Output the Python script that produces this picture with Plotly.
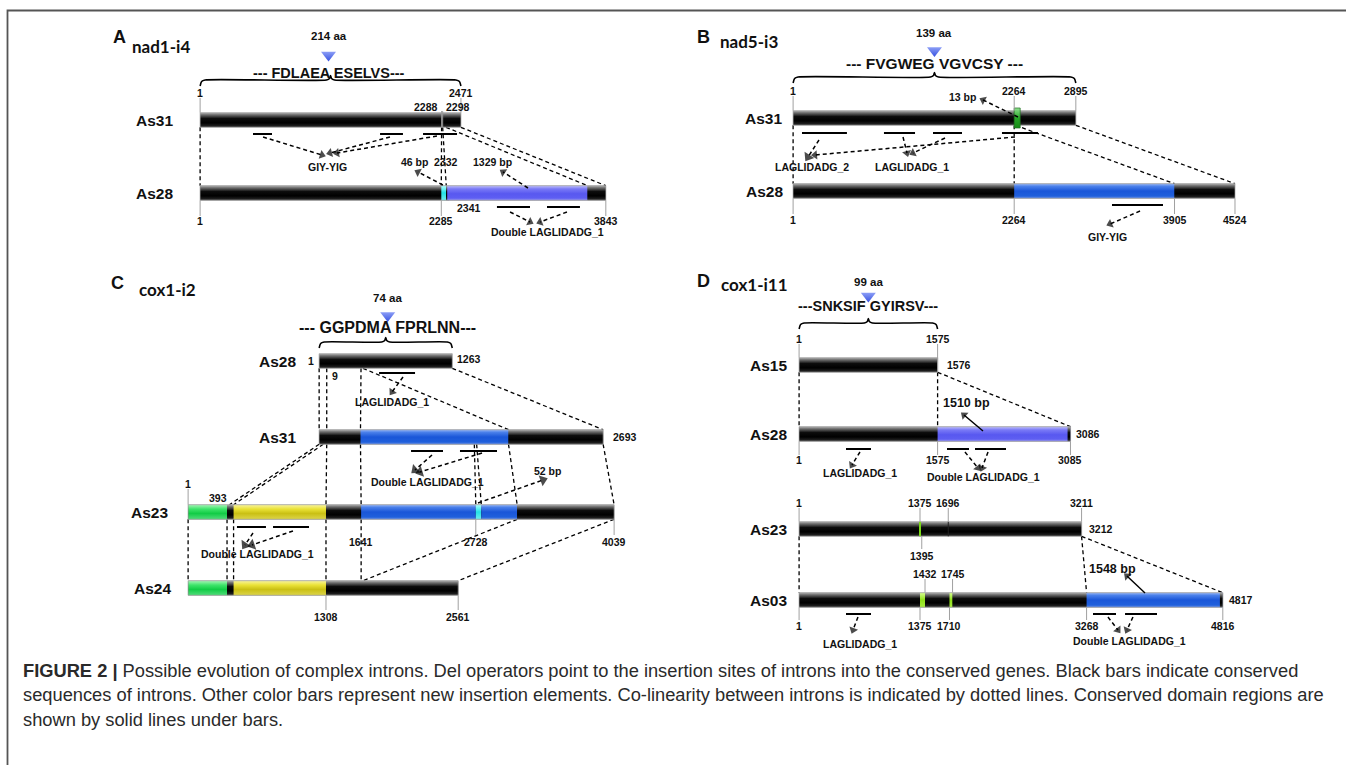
import plotly.graph_objects as go

W, H = 1346, 765

# ======================= DATA (bp positions) =======================
# ---- Panel A : nad1-i4 ----
A_AA = "214 aa"
A_SEQ = "--- FDLAEA ESELVS---"
A_AS31_LEN = 2471
A_AS31_SEGS = [(1, 2471, "black")]
A_AS31_MARKS = [2288, 2298]
A_AS31_DOMAINS = [(502, 682), (1705, 1922), (2112, 2434)]
A_AS28_LEN = 3843
A_AS28_SEGS = [(1, 2285, "black"), (2285, 2331, "cyan"), (2331, 2341, "black"),
               (2341, 3670, "violet"), (3670, 3843, "black")]
A_AS28_DOMAINS = [(2812, 3125), (3286, 3598)]
A_LINKS = [(1, 1), (2288, 2285), (2298, 2332), (2330, 3670), (2471, 3843)]

# ---- Panel B : nad5-i3 ----
B_AA = "139 aa"
B_SEQ = "--- FVGWEG VGVCSY ---"
B_AS31_LEN = 2895
B_AS31_SEGS = [(1, 2895, "black")]
B_AS31_INSERT = (2264, 2277)          # 13 bp
B_AS31_DOMAINS = [(92, 552), (931, 1249), (1433, 1730), (2139, 2508)]
B_AS28_LEN = 4524
B_AS28_SEGS = [(1, 2264, "black"), (2264, 3905, "blue"), (3905, 4524, "black")]
B_AS28_DOMAINS = [(3265, 3787)]
B_LINKS = [(1, 1), (2264, 2264), (2277, 3905), (2895, 4524)]

# ---- Panel C : cox1-i2 ----
C_AA = "74 aa"
C_SEQ = "--- GGPDMA FPRLNN---"
C_AS28_LEN = 1263
C_AS28_SEGS = [(1, 1263, "black")]
C_AS28_DOMAINS = [(569, 910)]
C_AS31_LEN = 2693
C_AS31_SEGS = [(1, 393, "black"), (393, 1796, "blue"), (1796, 2693, "black")]
C_AS31_DOMAINS = [(872, 1175), (1336, 1687)]
C_AS23_LEN = 4039
C_AS23_SEGS = [(1, 370, "green"), (370, 432, "black"), (432, 1308, "yellow"), (1308, 1641, "black"),
               (1641, 2728, "blue"), (2728, 2780, "cyan"), (2780, 3120, "blue"), (3120, 4039, "black")]
C_AS23_DOMAINS = [(464, 739), (806, 1147)]
C_AS24_LEN = 2561
C_AS24_SEGS = [(1, 370, "green"), (370, 432, "black"), (432, 1308, "yellow"), (1308, 2561, "black")]
C_LINKS_28_31 = [(1, 1), (73, 73), (398, 393), (417, 1796), (1263, 2693)]
C_LINKS_31_23 = [(1, 393), (40, 432), (73, 1308), (393, 1641), (1472, 2728), (1494, 2780),
                 (1796, 3120), (2693, 4039)]
C_LINKS_23_24 = [(1, 1), (370, 370), (432, 432), (1308, 1308), (1641, 1641), (3120, 1659), (4039, 2561)]

# ---- Panel D : cox1-i11 ----
D_AA = "99 aa"
D_SEQ = "---SNKSIF GYIRSV---"
D_AS15_LEN = 1576
D_AS15_SEGS = [(1, 1576, "black")]
D_AS28_LEN = 3086
D_AS28_SEGS = [(1, 1575, "black"), (1575, 3085, "violet"), (3085, 3086, "black")]
D_AS28_DOMAINS = [(534, 818), (1682, 1932), (2000, 2352)]
D_AS23_LEN = 3212
D_AS23_SEGS = [(1, 3212, "black")]
D_AS23_MARKS = [(1375, "lime"), (1696, "black")]
D_AS03_LEN = 4817
D_AS03_SEGS = [(1, 1375, "black"), (1375, 1432, "lime"), (1432, 1710, "black"), (1710, 1745, "lime"),
               (1745, 3268, "black"), (3268, 4816, "blue"), (4816, 4817, "black")]
D_AS03_DOMAINS = [(534, 818), (3341, 3602), (3705, 4068)]
D_LINKS_15_28 = [(1, 1), (1575, 1575), (1576, 3085)]
D_LINKS_23_03 = [(1, 1), (3211, 3268), (3212, 4816)]

CAPTION = [
    "<b>FIGURE 2 |</b> Possible evolution of complex introns. Del operators point to the insertion sites of introns into the conserved genes. Black bars indicate conserved",
    "sequences of introns. Other color bars represent new insertion elements. Co-linearity between introns is indicated by dotted lines. Conserved domain regions are",
    "shown by solid lines under bars.",
]

# ======================= LAYOUT / STYLE =======================
PANELS = {  # pixel of bp 0, pixels per bp
    "A": dict(ax="x", x0=200, k=0.1056),
    "B": dict(ax="x2", x0=793, k=0.0977),
    "C": dict(ax="x3", x0=188, k=0.1055),
    "D": dict(ax="x4", x0=799, k=0.088),
}
ROWS = {  # panel, bp offset, bar centre y (px)
    "A31": ("A", 0, 120), "A28": ("A", 0, 193),
    "B31": ("B", 0, 118), "B28": ("B", 0, 191),
    "C28": ("C", 1242, 361), "C31": ("C", 1242, 437), "C23": ("C", 0, 512), "C24": ("C", 0, 588),
    "D15": ("D", 0, 365), "D28": ("D", 0, 434), "D23": ("D", 0, 529), "D03": ("D", 0, 600),
}
HH = 7.3  # half bar height

GRAD = {
    "black": [[0, "#b4b4b4"], [0.14, "#707070"], [0.4, "#0c0c0c"], [0.7, "#000000"], [0.9, "#1e1e1e"], [1, "#5a5a5a"]],
    "blue": [[0, "#9ab8f6"], [0.18, "#4a80ea"], [0.5, "#1a56d8"], [0.85, "#2060dc"], [1, "#6a90e8"]],
    "violet": [[0, "#c0c0fb"], [0.22, "#7a7af6"], [0.55, "#5858f0"], [0.85, "#5e5ef2"], [1, "#9494f6"]],
    "cyan": [[0, "#b0ffff"], [0.5, "#22e2e6"], [1, "#70ecee"]],
    "green": [[0, "#a8f5b8"], [0.3, "#3ee46a"], [0.6, "#12cc46"], [1, "#50dc7a"]],
    "yellow": [[0, "#f8f4a0"], [0.3, "#eae236"], [0.6, "#cac014"], [1, "#dcd44a"]],
    "lime": [[0, "#d8ff90"], [0.5, "#8ee018"], [1, "#a8ec40"]],
    "dgreen": [[0, "#90e090"], [0.5, "#26a626"], [1, "#158a15"]],
}

FONT = "Liberation Sans, Arial, sans-serif"
traces = []
anns = []


def P(row):
    return PANELS[ROWS[row][0]]


def X(row, bp):
    return ROWS[row][1] + bp


def Y(row):
    return ROWS[row][2]


def dpx(row, px):
    return px / P(row)["k"]


def add(x, y, **kw):
    kw.setdefault("mode", "lines")
    kw.setdefault("hoverinfo", "skip")
    traces.append(go.Scatter(x=x, y=y, showlegend=False, yaxis="y", **kw))


def rect(row, a, b, cname, hh=HH, outline="#9a9a9a"):
    ax = P(row)["ax"]
    yc = Y(row)
    xa, xb = X(row, a), X(row, b)
    add([xa, xb, xb, xa, xa], [yc - hh, yc - hh, yc + hh, yc + hh, yc - hh], xaxis=ax,
        fill="toself", line=dict(width=0),
        fillgradient=dict(type="vertical", colorscale=GRAD[cname], start=yc - hh, stop=yc + hh))
    if outline:
        add([xa, xb, xb, xa, xa], [yc - hh, yc - hh, yc + hh, yc + hh, yc - hh], xaxis=ax,
            line=dict(width=0.7, color=outline))


def bar(row, length, segs, minpx=3.0):
    rect(row, 1, length, "black", outline=None)
    for a, b, c in segs:
        if c == "black" and (a, b) == (1, length):
            continue
        w = dpx(row, minpx)
        if b - a < w:
            if b >= length:
                a = b - w
            else:
                b = a + w
        rect(row, a, b, c, outline=None)
    ax = P(row)["ax"]
    yc = Y(row)
    xa, xb = X(row, 1), X(row, length)
    add([xa, xb, xb, xa, xa], [yc - HH, yc - HH, yc + HH, yc + HH, yc - HH], xaxis=ax,
        line=dict(width=0.7, color="#9a9a9a"))


def vmark(row, bp, color, width):
    add([X(row, bp)] * 2, [Y(row) - HH, Y(row) + HH], xaxis=P(row)["ax"], line=dict(color=color, width=width))


def tick(row, bp, y1, y2):
    add([X(row, bp)] * 2, [y1, y2], xaxis=P(row)["ax"], line=dict(color="#a0a0a0", width=1))


def dom(row, a, b, y):
    add([X(row, a), X(row, b)], [y, y], xaxis=P(row)["ax"], line=dict(color="black", width=2))


def link(ra, ba, rb, bb):
    add([X(ra, ba), X(rb, bb)], [Y(ra) + HH, Y(rb) - HH], xaxis=P(ra)["ax"],
        line=dict(color="black", width=1.3, dash="4px,3px"))


def arrow(row, b0, y0, b1, y1, dashed=True, size=8):
    add([X(row, b0), X(row, b1)], [y0, y1], xaxis=P(row)["ax"], mode="lines+markers",
        line=dict(color="black", width=1.5 if dashed else 1.4, dash="4px,3px" if dashed else "solid"),
        marker=dict(symbol="triangle-up", size=[0, size], color="black", angleref="previous",
                    line=dict(width=0)))


def text(row, bp, y, t, size=10.5, xanchor="center", xshift=0, bold=True, family=FONT, color="#111"):
    anns.append(dict(x=X(row, bp), y=y, xref=P(row)["ax"], yref="y", text=f"<b>{t}</b>" if bold else t,
                     showarrow=False, xanchor=xanchor, yanchor="middle", xshift=xshift,
                     font=dict(size=size, family=family, color=color)))


def label_row(row, name, gap):
    text(row, 1, Y(row), name, size=15.5, xanchor="right", xshift=-gap)


def brace(row, a, b, y):
    k = P(row)["k"]
    m = (a + b) / 2
    d = lambda px: px / k
    xs = [a, a + d(1.5), a + d(5), m - d(4), m - d(1), m, m + d(1), m + d(4), b - d(5), b - d(1.5), b]
    ys = [y + 6, y + 1.5, y, y, y - 1.5, y - 4.5, y - 1.5, y, y, y + 1.5, y + 6]
    add([X(row, v) for v in xs], ys, xaxis=P(row)["ax"], line=dict(color="black", width=1.6, shape="spline",
                                                                   smoothing=0.6))


def header(row, length, aa, seq, y_aa, y_tri, y_seq, y_brace, seq_size, tri_dx=0):
    m = (1 + length) / 2
    brace(row, 1, length, y_brace)
    add([X(row, m + dpx(row, tri_dx))], [y_tri], xaxis=P(row)["ax"], mode="markers",
        marker=dict(symbol="triangle-down", size=13, color="#8c9ef6",
                    gradient=dict(type="vertical", color="#3550e0"), line=dict(width=0)))
    text(row, m + dpx(row, tri_dx), y_aa, aa, size=11.5)
    text(row, m + dpx(row, tri_dx), y_seq, seq, size=seq_size)


def title(x, y, letter):
    anns.append(dict(x=x / W, y=1 - y / H, xref="paper", yref="paper", text=f"<b>{letter}</b>", showarrow=False,
                     xanchor="center", yanchor="middle", font=dict(size=18, family=FONT, color="#111")))


def subtitle(x, y, name):
    anns.append(dict(x=x / W, y=1 - y / H, xref="paper", yref="paper", text=f"<b>{name}</b>", showarrow=False,
                     xanchor="center", yanchor="middle", font=dict(size=17, family="Lato, sans-serif", color="#111")))


# ======================= PANEL A =======================
header("A31", A_AS31_LEN, A_AA, A_SEQ, 36, 55, 72.5, 80, 14.5, tri_dx=-2)
for a, b in A_LINKS:
    link("A31", a, "A28", b)
for r, L, S in [("A31", A_AS31_LEN, A_AS31_SEGS), ("A28", A_AS28_LEN, A_AS28_SEGS)]:
    bar(r, L, S)
for m in A_AS31_MARKS:
    vmark("A31", m, "#9a9a9a", 1)
    tick("A31", m, 111, 113)
label_row("A31", "As31", 25)
label_row("A28", "As28", 25)
for v in [1, A_AS31_LEN]:
    tick("A31", v, 98, Y("A31") - HH)
    text("A31", v, 93, str(v))
text("A31", 2288, 107, "2288", xanchor="right", xshift=-2)
text("A31", 2298, 107, "2298", xanchor="left", xshift=1.5)
for v in [1, 2285, A_AS28_LEN]:
    tick("A28", v, Y("A28") + HH, 216)
    text("A28", v, 221, str(v))
text("A28", 2341, 208, "2341", xanchor="left", xshift=8)
text("A28", 2332, 162, "2332")
for a, b in A_AS31_DOMAINS:
    dom("A31", a, b, 134)
for a, b in A_AS28_DOMAINS:
    dom("A28", a, b, 207)
arrow("A31", 597, 137, 1155, 155)
arrow("A31", 1799, 137, 1231, 153)
arrow("A31", 2244, 136, 1297, 153)
text("A31", 1203, 167, "GIY-YIG")
arrow("A28", 2300, 185, 2064, 172)
text("A28", 2030, 162, "46 bp")
arrow("A28", 3106, 188, 2870, 172)
text("A28", 2770, 162, "1329 bp")
arrow("A28", 2936, 212, 3125, 222)
arrow("A28", 3475, 212, 3220, 222)
text("A28", 3295, 232, "Double LAGLIDADG_1")

# ======================= PANEL B =======================
header("B31", B_AS31_LEN, B_AA, B_SEQ, 33, 50.5, 63, 77, 15.5)
for a, b in B_LINKS:
    link("B31", a, "B28", b)
bar("B31", B_AS31_LEN, B_AS31_SEGS)
ia, ib = B_AS31_INSERT
rect("B31", ia, max(ib, ia + dpx("B31", 6)), "dgreen", hh=10, outline="#1f6f1f")
bar("B28", B_AS28_LEN, B_AS28_SEGS)
label_row("B31", "As31", 9)
label_row("B28", "As28", 8)
for v in [1, 2264, B_AS31_LEN]:
    tick("B31", v, 96, Y("B31") - HH)
    text("B31", v, 91, str(v))
for v in [1, 2264, 3905, B_AS28_LEN]:
    tick("B28", v, Y("B28") + HH, 214)
    text("B28", v, 220, str(v))
for a, b in B_AS31_DOMAINS:
    dom("B31", a, b, 133)
for a, b in B_AS28_DOMAINS:
    dom("B28", a, b, 205)
arrow("B31", 2303, 117, 1945, 100)
text("B31", 1730, 97, "13 bp")
arrow("B31", 266, 140, 154, 157, size=10)
arrow("B31", 1126, 137, 1167, 153)
arrow("B31", 1556, 138, 1228, 153)
arrow("B31", 2272, 137, 225, 155)
text("B31", 194, 167, "LAGLIDADG_2")
text("B31", 1218, 167, "LAGLIDADG_1")
arrow("B28", 3552, 211, 3245, 224)
text("B28", 3224, 237, "GIY-YIG")

# ======================= PANEL C =======================
header("C28", C_AS28_LEN, C_AA, C_SEQ, 298, 315.5, 327, 342, 16, tri_dx=2)
for a, b in C_LINKS_28_31:
    add([X("C28", a), X("C31", b)], [Y("C28") + HH, Y("C31") - HH], xaxis="x3",
        line=dict(color="black", width=1.3, dash="4px,3px"))
for a, b in C_LINKS_31_23:
    add([X("C31", a), X("C23", b)], [Y("C31") + HH, Y("C23") - HH], xaxis="x3",
        line=dict(color="black", width=1.3, dash="4px,3px"))
for a, b in C_LINKS_23_24:
    link("C23", a, "C24", b)
for r, L, S in [("C28", C_AS28_LEN, C_AS28_SEGS), ("C31", C_AS31_LEN, C_AS31_SEGS),
                ("C23", C_AS23_LEN, C_AS23_SEGS), ("C24", C_AS24_LEN, C_AS24_SEGS)]:
    bar(r, L, S)
label_row("C28", "As28", 21)
label_row("C31", "As31", 21)
label_row("C23", "As23", 18)
label_row("C24", "As24", 15)
text("C28", 1, 361, "1", xanchor="right", xshift=-3)
text("C28", C_AS28_LEN, 359, str(C_AS28_LEN), xanchor="left", xshift=3)
text("C28", 9, 376, "9", xanchor="left", xshift=10)
text("C31", C_AS31_LEN, 437, str(C_AS31_LEN), xanchor="left", xshift=8)
tick("C23", 1, 489, Y("C23") - HH)
text("C23", 1, 484, "1")
text("C23", 393, 498, "393", xanchor="right", xshift=0)
text("C23", 1641, 542, "1641")
for v in [2728, C_AS23_LEN]:
    tick("C23", v, Y("C23") + HH, 535)
    text("C23", v, 542, str(v))
for v in [1308, C_AS24_LEN]:
    tick("C24", v, Y("C24") + HH, 610)
    text("C24", v, 617, str(v))
for a, b in C_AS28_DOMAINS:
    dom("C28", a, b, 373)
for a, b in C_AS31_DOMAINS:
    dom("C31", a, b, 451)
for a, b in C_AS23_DOMAINS:
    dom("C23", a, b, 527)
arrow("C28", 796, 377, 692, 392)
text("C28", 692, 402, "LAGLIDADG_1")
arrow("C31", 1071, 455, 910, 470, size=10)
arrow("C31", 1545, 453, 957, 472, size=10)
text("C31", 1024, 482, "Double LAGLIDADG_1")
arrow("C23", 2749, 503, 3365, 480, size=10)
text("C23", 3403, 471, "52 bp")
arrow("C23", 616, 533, 540, 545, size=10)
arrow("C23", 995, 531, 607, 545, size=10)
text("C23", 654, 554, "Double LAGLIDADG_1")

# ======================= PANEL D =======================
header("D15", 1575, D_AA, D_SEQ, 282, 296, 306, 323, 14.5)
for a, b in D_LINKS_15_28:
    link("D15", a, "D28", b)
for a, b in D_LINKS_23_03:
    link("D23", a, "D03", b)
for r, L, S in [("D15", D_AS15_LEN, D_AS15_SEGS), ("D28", D_AS28_LEN, D_AS28_SEGS),
                ("D23", D_AS23_LEN, D_AS23_SEGS), ("D03", D_AS03_LEN, D_AS03_SEGS)]:
    bar(r, L, S)
for bp, c in D_AS23_MARKS:
    vmark("D23", bp, "#7ad818" if c == "lime" else "#222", 2 if c == "lime" else 1)
for r, nm in [("D15", "As15"), ("D28", "As28"), ("D23", "As23"), ("D03", "As03")]:
    label_row(r, nm, 10)
tick("D15", 1, 344, Y("D15") - HH)
tick("D15", 1575, 344, Y("D15") + HH)
text("D15", 1, 339, "1")
text("D15", 1575, 339, "1575")
text("D15", D_AS15_LEN, 365, str(D_AS15_LEN), xanchor="left", xshift=7)
for v in [1, 1575, 3085]:
    tick("D28", v, Y("D28") + HH, 455)
    text("D28", v, 460, str(v))
text("D28", D_AS28_LEN, 434, str(D_AS28_LEN), xanchor="left", xshift=3)
for v in [1, 1375, 1696, 3211]:
    tick("D23", v, 508, Y("D23") - HH)
    text("D23", v, 503, str(v))
tick("D23", 1395, Y("D23") + HH, 549)
text("D23", 1395, 556, "1395")
text("D23", D_AS23_LEN, 529, str(D_AS23_LEN), xanchor="left", xshift=5)
for v in [1432, 1745]:
    tick("D03", v, 579, Y("D03") - HH)
    text("D03", v, 574, str(v))
for v in [1, 1375, 1710, 3268, 4816]:
    tick("D03", v, Y("D03") + HH, 620)
    text("D03", v, 626, str(v))
text("D03", D_AS03_LEN, 600, str(D_AS03_LEN), xanchor="left", xshift=4)
for a, b in D_AS28_DOMAINS:
    dom("D28", a, b, 449)
for a, b in D_AS03_DOMAINS:
    dom("D03", a, b, 614)
arrow("D28", 2091, 431, 1875, 415, dashed=False)
text("D28", 1898, 403, "1510 bp", size=12.5)
arrow("D28", 693, 452, 602, 465)
arrow("D28", 1886, 452, 2034, 468)
arrow("D28", 2148, 452, 2080, 468)
text("D28", 693, 473, "LAGLIDADG_1")
text("D28", 2091, 477, "Double LAGLIDADG_1")
arrow("D03", 3932, 593, 3727, 576, dashed=False)
text("D03", 3557, 569, "1548 bp", size=12.5)
arrow("D03", 670, 617, 614, 630)
arrow("D03", 3511, 617, 3625, 630)
arrow("D03", 3795, 617, 3727, 630)
text("D03", 693, 644, "LAGLIDADG_1")
text("D03", 3761, 641, "Double LAGLIDADG_1")

# ======================= TITLES & CAPTION =======================
title(119, 37, "A")
subtitle(161, 46, "nad1-i4")
title(703, 37, "B")
subtitle(749, 41, "nad5-i3")
title(118, 283, "C")
subtitle(167, 289, "cox1-i2")
title(703, 281, "D")
subtitle(754, 284, "cox1-i11")

for i, line in enumerate(CAPTION):
    anns.append(dict(x=21 / W, y=1 - (670 + 24.5 * i) / H, xref="paper", yref="paper", text=line,
                     showarrow=False, xanchor="left", yanchor="middle",
                     font=dict(size=18.3, family=FONT, color="#2a2a2a")))

fig = go.Figure(traces)
layout = dict(width=W, height=H, margin=dict(l=0, r=0, t=0, b=0), autosize=False,
              paper_bgcolor="white", plot_bgcolor="white", showlegend=False,
              yaxis=dict(range=[H, 0], domain=[0, 1], visible=False, anchor="x", fixedrange=True),
              annotations=anns,
              shapes=[dict(type="rect", xref="paper", yref="paper", x0=7.5 / W, x1=1.05,
                           y0=-0.05, y1=1 - 10.5 / H, line=dict(color="#555", width=1.8))])
for i, key in enumerate(["A", "B", "C", "D"]):
    p = PANELS[key]
    name = "xaxis" if i == 0 else f"xaxis{i + 1}"
    ax = dict(range=[-p["x0"] / p["k"], (W - p["x0"]) / p["k"]], domain=[0, 1], visible=False,
              anchor="y", fixedrange=True)
    if i > 0:
        ax["overlaying"] = "x"
    layout[name] = ax
fig.update_layout(**layout)
fig.write_html("out.html", config={"displayModeBar": False},
               post_script="document.body.style.margin='0px';")
